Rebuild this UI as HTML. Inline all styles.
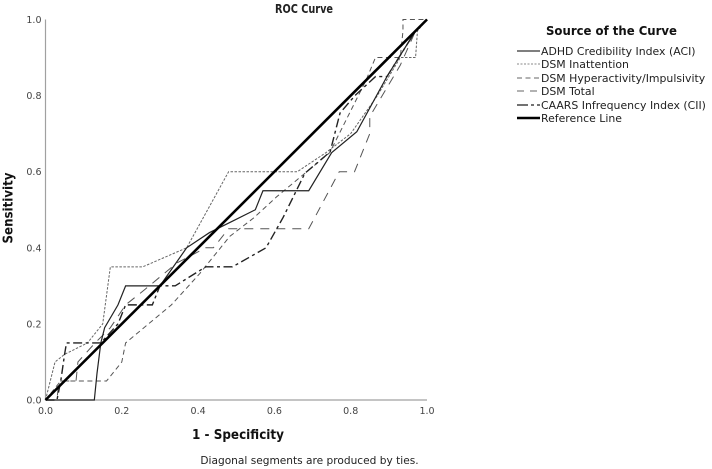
<!DOCTYPE html>
<html lang="en">
<head>
<meta charset="utf-8">
<title>ROC Curve</title>
<style>
html,body{margin:0;padding:0;background:#fff;}
svg{display:block;filter:blur(0.35px);}
text{font-family:"DejaVu Sans","Liberation Sans",sans-serif;}
</style>
</head>
<body>
<svg id="chart" xmlns="http://www.w3.org/2000/svg" width="712" height="469" viewBox="0 0 712 469">
<rect width="712" height="469" fill="#fff"/>
<text x="304" y="13" text-anchor="middle" font-size="12.5" font-weight="700" fill="#222" textLength="58" lengthAdjust="spacingAndGlyphs">ROC Curve</text>
<text transform="translate(12.5,208) rotate(-90)" text-anchor="middle" font-size="13" font-weight="700" fill="#111" textLength="71" lengthAdjust="spacingAndGlyphs">Sensitivity</text>
<text x="238" y="439" text-anchor="middle" font-size="13" font-weight="700" fill="#111" textLength="92" lengthAdjust="spacingAndGlyphs">1 - Specificity</text>
<text x="309.5" y="464" text-anchor="middle" font-size="10.6" fill="#222">Diagonal segments are produced by ties.</text>
<text x="611.5" y="35" text-anchor="middle" font-size="12.5" font-weight="700" fill="#111" textLength="131" lengthAdjust="spacingAndGlyphs">Source of the Curve</text>
<g id="axes"></g>
<g id="series"></g>
<g id="legend"></g>
</svg>
<script>
const xTicks = [0, 0.2, 0.4, 0.6, 0.8, 1.0];
const yTicks = [0, 0.2, 0.4, 0.6, 0.8, 1.0];

const aciX = [0, 0.128, 0.135, 0.145, 0.155, 0.19, 0.21, 0.30, 0.37, 0.43, 0.49, 0.55, 0.57, 0.69, 0.75, 0.816, 0.895, 0.97, 1];
const aciY = [0, 0, 0.07, 0.15, 0.19, 0.25, 0.30, 0.30, 0.40, 0.44, 0.47, 0.50, 0.55, 0.55, 0.65, 0.705, 0.85, 0.97, 1];

const inattentionX = [0, 0.025, 0.05, 0.11, 0.15, 0.17, 0.255, 0.37, 0.48, 0.66, 0.735, 0.80, 0.87, 0.93, 0.97, 0.975, 1];
const inattentionY = [0, 0.10, 0.12, 0.15, 0.20, 0.35, 0.35, 0.40, 0.60, 0.60, 0.65, 0.70, 0.80, 0.90, 0.90, 0.97, 1];

const hyperX = [0, 0.04, 0.16, 0.20, 0.21, 0.33, 0.405, 0.483, 0.545, 0.607, 0.685, 0.745, 0.84, 0.865, 0.93, 0.937, 0.937, 1];
const hyperY = [0, 0.05, 0.05, 0.10, 0.15, 0.25, 0.333, 0.43, 0.478, 0.535, 0.60, 0.65, 0.84, 0.90, 0.90, 0.97, 1, 1];

const totalX = [0, 0.03, 0.035, 0.08, 0.085, 0.13, 0.17, 0.21, 0.26, 0.344, 0.42, 0.44, 0.48, 0.69, 0.77, 0.81, 0.85, 0.85, 0.93, 0.97, 1];
const totalY = [0, 0, 0.05, 0.05, 0.10, 0.15, 0.19, 0.25, 0.29, 0.36, 0.40, 0.40, 0.45, 0.45, 0.60, 0.60, 0.70, 0.745, 0.88, 0.97, 1];

const ciiX = [0, 0.03, 0.04, 0.05, 0.055, 0.145, 0.19, 0.21, 0.28, 0.30, 0.34, 0.42, 0.49, 0.578, 0.623, 0.68, 0.746, 0.772, 0.811, 0.865, 0.895, 0.97, 1];
const ciiY = [0, 0, 0.05, 0.12, 0.15, 0.15, 0.20, 0.25, 0.25, 0.30, 0.30, 0.35, 0.35, 0.40, 0.48, 0.596, 0.652, 0.754, 0.80, 0.85, 0.85, 0.97, 1];

const refX = [0, 1];
const refY = [0, 1];

const seriesLabels = ["ADHD Credibility Index (ACI)", "DSM Inattention", "DSM Hyperactivity/Impulsivity", "DSM Total", "CAARS Infrequency Index (CII)", "Reference Line"];

const NS = "http://www.w3.org/2000/svg";
const sx = v => 45.5 + 381.5 * v;
const sy = v => 400 - 380.5 * v;

const axes = document.getElementById("axes");
const seriesG = document.getElementById("series");
const legend = document.getElementById("legend");

const xAxis = document.createElementNS(NS, "line");


xAxis.setAttribute("x1", sx(0)); xAxis.setAttribute("x2", sx(1));
xAxis.setAttribute("y1", sy(0)); xAxis.setAttribute("y2", sy(0));
xAxis.setAttribute("stroke", "#a0a0a0"); xAxis.setAttribute("stroke-width", "1.2");
axes.appendChild(xAxis);

const yAxis = document.createElementNS(NS, "line");


yAxis.setAttribute("x1", sx(0)); yAxis.setAttribute("x2", sx(0));
yAxis.setAttribute("y1", sy(0)); yAxis.setAttribute("y2", sy(1));
yAxis.setAttribute("stroke", "#a0a0a0"); yAxis.setAttribute("stroke-width", "1.2");
axes.appendChild(yAxis);

xTicks.forEach(t => {
  const el = document.createElementNS(NS, "text");
  
  
  el.setAttribute("x", sx(t));
  el.setAttribute("y", sy(0) + 14);
  el.setAttribute("text-anchor", "middle");
  el.setAttribute("font-size", "9.5");
  el.setAttribute("fill", "#444");
  el.textContent = t.toFixed(1);
  axes.appendChild(el);
});

yTicks.forEach(t => {
  const el = document.createElementNS(NS, "text");
  
  
  el.setAttribute("x", sx(0) - 4);
  el.setAttribute("y", sy(t) + 3.5);
  el.setAttribute("text-anchor", "end");
  el.setAttribute("font-size", "9.5");
  el.setAttribute("fill", "#444");
  el.textContent = t.toFixed(1);
  axes.appendChild(el);
});

function pointsOf(xs, ys) {
  return xs.map((x, i) => sx(x).toFixed(2) + "," + sy(ys[i]).toFixed(2)).join(" ");
}

function drawSeries(name, xs, ys, color, width, dash) {
  const el = document.createElementNS(NS, "polyline");
  
  
  el.setAttribute("points", pointsOf(xs, ys));
  el.setAttribute("fill", "none");
  el.setAttribute("stroke", color);
  el.setAttribute("stroke-width", width);
  if (dash) el.setAttribute("stroke-dasharray", dash);
  seriesG.appendChild(el);
}

drawSeries("series-dsm-inattention", inattentionX, inattentionY, "#666", 1, "2.5 1.5");
drawSeries("series-dsm-hyperactivity", hyperX, hyperY, "#555", 1, "5 3.5");
drawSeries("series-dsm-total", totalX, totalY, "#555", 1, "9 7");
drawSeries("series-aci", aciX, aciY, "#222", 1.2, "");
drawSeries("series-cii", ciiX, ciiY, "#222", 1.4, "9 3.5 3 3.5");
drawSeries("series-reference-line", refX, refY, "#000", 2.6, "");

const legendColors = ["#333", "#888", "#666", "#666", "#444", "#000"];
const legendWidths = [1.3, 1, 1, 1, 1.6, 2.4];
const legendDashes = ["", "2 1.5", "5 3.5", "7 6", "11 3 3 3", ""];
const legendRows = [51, 64, 78, 91, 105, 118];

seriesLabels.forEach((label, i) => {
  const ln = document.createElementNS(NS, "line");
  
  
  ln.setAttribute("x1", 517); ln.setAttribute("x2", 540);
  ln.setAttribute("y1", legendRows[i]); ln.setAttribute("y2", legendRows[i]);
  ln.setAttribute("stroke", legendColors[i]);
  ln.setAttribute("stroke-width", legendWidths[i]);
  if (legendDashes[i]) ln.setAttribute("stroke-dasharray", legendDashes[i]);
  legend.appendChild(ln);

  const tx = document.createElementNS(NS, "text");
  
  
  tx.setAttribute("x", 541);
  tx.setAttribute("y", legendRows[i] + 4);
  tx.setAttribute("font-size", "10.9");
  tx.setAttribute("fill", "#222");
  tx.textContent = label;
  legend.appendChild(tx);
});
</script>
</body>
</html>
